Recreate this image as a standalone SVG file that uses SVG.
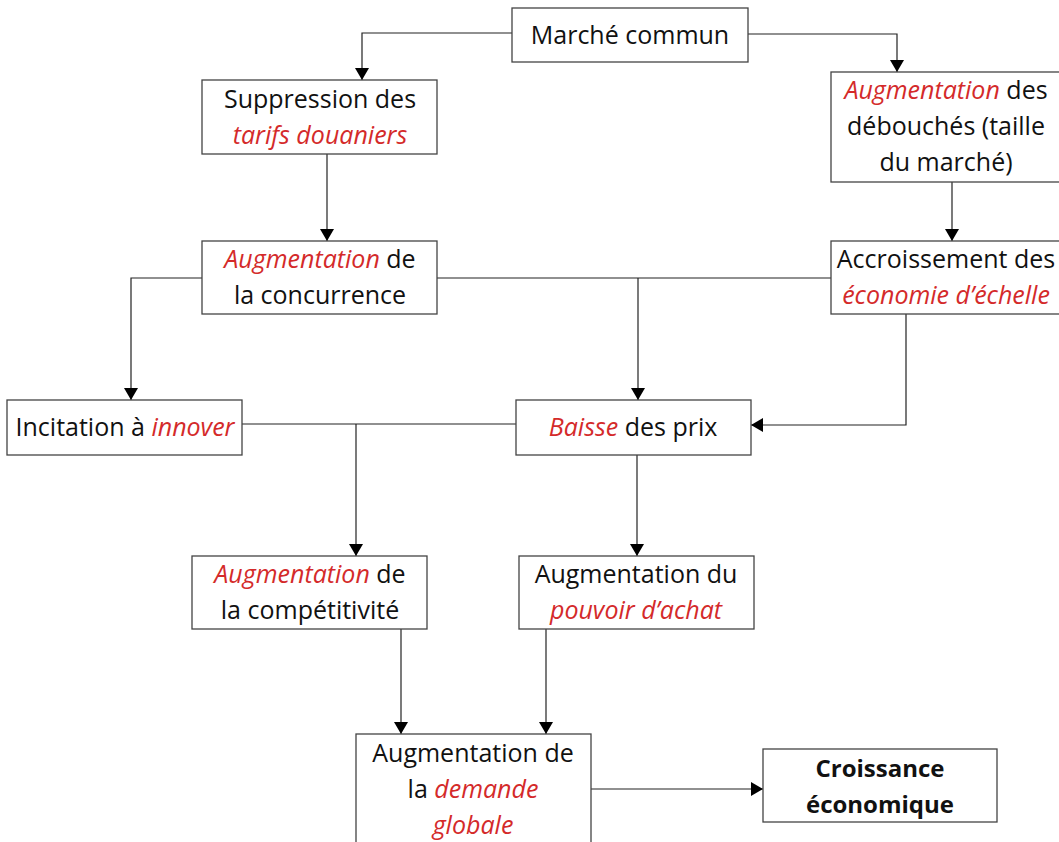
<svg xmlns="http://www.w3.org/2000/svg" width="1059" height="842" viewBox="0 0 1059 842">
<style>
.box{fill:#fff;stroke:#444;stroke-width:1.3}
.t{font-family:"Open Sans","Noto Sans",sans-serif;font-size:25px;fill:#111;text-anchor:middle}
.r{fill:#d42a2a;font-style:italic}
.b{font-weight:bold;font-size:24px}
.c{fill:none;stroke:#222;stroke-width:1.2}
</style>
<defs>
<marker id="a" markerWidth="12" markerHeight="14" refX="12" refY="7" orient="auto" markerUnits="userSpaceOnUse" viewBox="0 0 12 14">
<path d="M0,0L12,7L0,14Z" fill="#000"/>
</marker>
</defs>
<g id="connectors">
<path class="c" d="M512,33H362V80" marker-end="url(#a)"/>
<path class="c" d="M748,34H897V72" marker-end="url(#a)"/>
<path class="c" d="M327,154V241" marker-end="url(#a)"/>
<path class="c" d="M952,182V241" marker-end="url(#a)"/>
<path class="c" d="M202,278H131V400" marker-end="url(#a)"/>
<path class="c" d="M437,278H831"/>
<path class="c" d="M638,278V400" marker-end="url(#a)"/>
<path class="c" d="M906,314V425H751" marker-end="url(#a)"/>
<path class="c" d="M242,424H516"/>
<path class="c" d="M356,424V556" marker-end="url(#a)"/>
<path class="c" d="M637,455V556" marker-end="url(#a)"/>
<path class="c" d="M401,629V734" marker-end="url(#a)"/>
<path class="c" d="M546,629V734" marker-end="url(#a)"/>
<path class="c" d="M591,789H763" marker-end="url(#a)"/>
</g>
<g id="marche"><rect class="box" x="512" y="8" width="236" height="54"/><text class="t" x="630" y="44">Marché commun</text></g>
<g id="suppression"><rect class="box" x="202" y="80" width="235" height="74"/><text class="t" x="320" y="108">Suppression des</text><text class="t r" x="320" y="144">tarifs douaniers</text></g>
<g id="debouches"><rect class="box" x="831" y="72" width="230" height="110"/><text class="t" x="946" y="99"><tspan class="r">Augmentation</tspan> des</text><text class="t" x="946" y="135">débouchés (taille</text><text class="t" x="946" y="171">du marché)</text></g>
<g id="concurrence"><rect class="box" x="202" y="241" width="235" height="73"/><text class="t" x="320" y="268"><tspan class="r">Augmentation</tspan> de</text><text class="t" x="320" y="304">la concurrence</text></g>
<g id="accroissement"><rect class="box" x="831" y="241" width="230" height="73"/><text class="t" x="946" y="268">Accroissement des</text><text class="t r" x="946" y="304">économie d’échelle</text></g>
<g id="incitation"><rect class="box" x="7" y="400" width="235" height="55"/><text class="t" x="125" y="436">Incitation à <tspan class="r">innover</tspan></text></g>
<g id="baisse"><rect class="box" x="516" y="400" width="235" height="55"/><text class="t" x="633" y="436"><tspan class="r">Baisse</tspan> des prix</text></g>
<g id="competitivite"><rect class="box" x="192" y="556" width="235" height="73"/><text class="t" x="310" y="583"><tspan class="r">Augmentation</tspan> de</text><text class="t" x="310" y="619">la compétitivité</text></g>
<g id="pouvoir"><rect class="box" x="519" y="556" width="235" height="73"/><text class="t" x="636" y="583">Augmentation du</text><text class="t r" x="636" y="619">pouvoir d’achat</text></g>
<g id="demande"><rect class="box" x="356" y="734" width="235" height="120"/><text class="t" x="473" y="762">Augmentation de</text><text class="t" x="473" y="798">la <tspan class="r">demande</tspan></text><text class="t r" x="473" y="834">globale</text></g>
<g id="croissance"><rect class="box" x="763" y="749" width="234" height="73"/><text class="t b" x="880" y="777">Croissance</text><text class="t b" x="880" y="813">économique</text></g>
</svg>
